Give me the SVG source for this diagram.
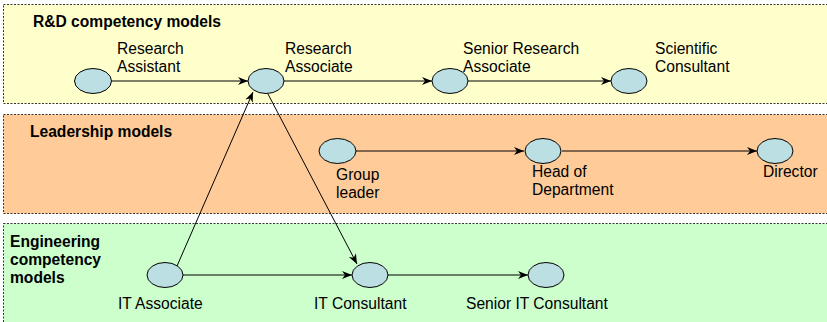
<svg xmlns="http://www.w3.org/2000/svg" width="827" height="322" viewBox="0 0 827 322">
<defs>
<style>
.band{stroke:#333;stroke-width:1;stroke-dasharray:2,1.5}
.node{fill:#BCDFE4;stroke:#000;stroke-width:1}
.t{font-family:"Liberation Sans",Arial,sans-serif;font-size:15.6px;fill:#000}
.b{font-family:"Liberation Sans",Arial,sans-serif;font-size:15.6px;font-weight:bold;fill:#000}
.c{stroke:#000;stroke-width:1;fill:none;marker-end:url(#arr)}
</style>
<marker id="arr" viewBox="0 0 10 10" refX="10" refY="5" markerWidth="10" markerHeight="10" markerUnits="userSpaceOnUse" orient="auto">
<path d="M0,1 L10,5 L0,9 L3,5 z" fill="#000"/>
</marker>
</defs>
<rect x="0" y="0" width="827" height="322" fill="#fff"/>
<g id="band-rd">
<rect class="band" x="3.5" y="4.5" width="830" height="99" fill="#FFFFCC"/>
<text class="b" x="33" y="27">R&amp;D competency models</text>
</g>
<g id="band-lead">
<rect class="band" x="3.5" y="114.5" width="830" height="99" fill="#FFCC99"/>
<text class="b" x="30" y="137">Leadership models</text>
</g>
<g id="band-eng">
<rect class="band" x="3.5" y="223.5" width="830" height="110" fill="#CCFFCC"/>
<text class="b" x="10" y="247">Engineering</text>
<text class="b" x="10" y="265">competency</text>
<text class="b" x="10" y="283">models</text>
</g>
<g id="connectors">
<line class="c" x1="112" y1="81" x2="248" y2="81"/>
<line class="c" x1="284" y1="81" x2="432" y2="81"/>
<line class="c" x1="468" y1="81" x2="611" y2="81"/>
<line class="c" x1="356" y1="151" x2="524" y2="151"/>
<line class="c" x1="562" y1="151" x2="757" y2="151"/>
<line class="c" x1="183" y1="275" x2="352" y2="275"/>
<line class="c" x1="388" y1="275" x2="528" y2="275"/>
<line class="c" x1="177" y1="266" x2="253" y2="92"/>
<line class="c" x1="268" y1="94" x2="357" y2="264"/>
</g>
<g id="n-research-assistant">
<ellipse class="node" cx="93" cy="81" rx="18.5" ry="12.5"/>
<text class="t" x="117" y="54">Research</text>
<text class="t" x="117" y="72">Assistant</text>
</g>
<g id="n-research-associate">
<ellipse class="node" cx="266" cy="81" rx="18" ry="12.5"/>
<text class="t" x="285" y="54">Research</text>
<text class="t" x="285" y="72">Associate</text>
</g>
<g id="n-senior-research-associate">
<ellipse class="node" cx="450" cy="81" rx="18" ry="12.5"/>
<text class="t" x="463" y="54">Senior Research</text>
<text class="t" x="463" y="72">Associate</text>
</g>
<g id="n-scientific-consultant">
<ellipse class="node" cx="629" cy="81" rx="18" ry="12.5"/>
<text class="t" x="655" y="54">Scientific</text>
<text class="t" x="655" y="72">Consultant</text>
</g>
<g id="n-group-leader">
<ellipse class="node" cx="337.5" cy="151" rx="18.5" ry="12.5"/>
<text class="t" x="336" y="180">Group</text>
<text class="t" x="336" y="198">leader</text>
</g>
<g id="n-head-of-department">
<ellipse class="node" cx="543" cy="151" rx="18" ry="12.5"/>
<text class="t" x="532" y="177">Head of</text>
<text class="t" x="532" y="195">Department</text>
</g>
<g id="n-director">
<ellipse class="node" cx="775" cy="151" rx="18" ry="12.5"/>
<text class="t" x="763" y="177">Director</text>
</g>
<g id="n-it-associate">
<ellipse class="node" cx="165" cy="275" rx="18" ry="12.5"/>
<text class="t" x="118" y="309">IT Associate</text>
</g>
<g id="n-it-consultant">
<ellipse class="node" cx="370" cy="275" rx="18" ry="12.5"/>
<text class="t" x="314" y="309">IT Consultant</text>
</g>
<g id="n-senior-it-consultant">
<ellipse class="node" cx="546" cy="275" rx="18" ry="12.5"/>
<text class="t" x="466" y="309">Senior IT Consultant</text>
</g>
</svg>
